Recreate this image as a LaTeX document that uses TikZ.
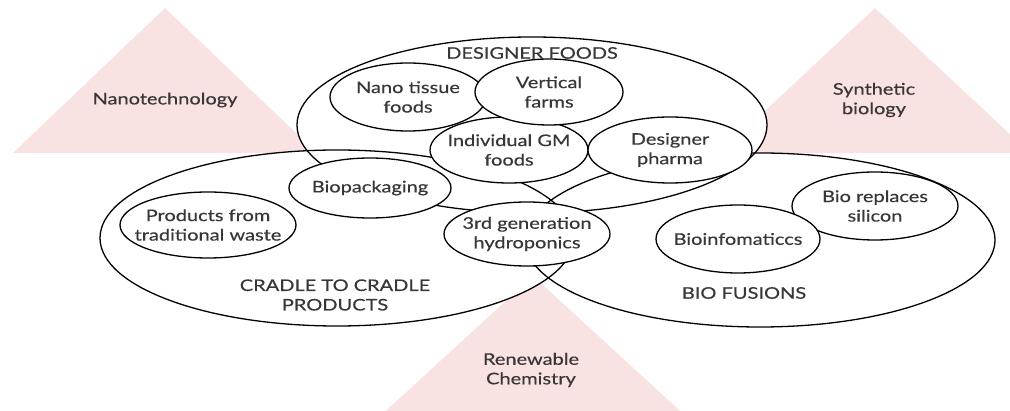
\documentclass[tikz,border=0pt]{standalone}
\usepackage{fontspec}
\setmainfont[FakeStretch=1.25,FakeBold=0.4]{Lato}
\usetikzlibrary{shapes.geometric}
\definecolor{tri}{RGB}{249,227,226}
\definecolor{txt}{RGB}{58,54,56}
\begin{document}
\begin{tikzpicture}[x=1pt,y=-1pt,
  lab/.style={font=\fontsize{16}{19.5}\selectfont, text=txt, align=center, inner sep=0pt},
  tribox/.style={fill=tri, draw=none},
  bigfill/.style={ellipse, fill=white, draw=none, inner sep=0pt},
  outline/.style={draw=black, line width=1.3pt},
  inner/.style={ellipse, fill=white, draw=black, line width=1.3pt, inner sep=0pt}
]
\useasboundingbox (0,0) rectangle (1010,411);
\clip (0,0) rectangle (1010,411);
% triangles
\fill[tribox] (13,153) -- (165,8) -- (317,153) -- cycle;
\fill[tribox] (720,153) -- (875,8) -- (1030,153) -- cycle;
\fill[tribox] (533,276) -- (690,420) -- (376,420) -- cycle;
% big ellipses: fills
\node[bigfill, minimum width=470pt, minimum height=176pt] (df) at (532,125) {};
\node[bigfill, minimum width=474pt, minimum height=176pt] (cc) at (337,238) {};
\node[bigfill, minimum width=470pt, minimum height=174pt] (bf) at (760,240) {};
% big ellipses: outlines
\draw[outline] (df.center) ellipse [x radius=235pt, y radius=88pt];
\draw[outline] (cc.center) ellipse [x radius=237pt, y radius=88pt];
\draw[outline] (bf.center) ellipse [x radius=235pt, y radius=87pt];
% inner ellipses
\node[inner, minimum width=156pt, minimum height=68pt] (nano) at (408,97) {};
\node[inner, minimum width=158pt, minimum height=66pt] (gm) at (509,150) {};
\node[inner, minimum width=148pt, minimum height=66pt] (vert) at (549,92) {};
\node[inner, minimum width=164pt, minimum height=66pt] (pharma) at (670,150) {};
\node[inner, minimum width=162pt, minimum height=60pt] (biopack) at (370,188) {};
\node[inner, minimum width=176pt, minimum height=66pt] (waste) at (208,225) {};
\node[inner, minimum width=166pt, minimum height=64pt] (hydro) at (527,234) {};
\node[inner, minimum width=166pt, minimum height=68pt] (silicon) at (875,206) {};
\node[inner, minimum width=164pt, minimum height=68pt] (bioinfo) at (738,239) {};
% labels
\node[lab] (tnano) at (165,100) {Nanotechnology};
\node[lab] (tsyn) at (874,100) {Synthetic\\biology};
\node[lab] (tren) at (531,370) {Renewable\\Chemistry};
\node[lab] (tdf) at (532,53) {DESIGNER FOODS};
\node[lab] (tcc) at (335,295) {CRADLE TO CRADLE\\PRODUCTS};
\node[lab] (tbf) at (744,293) {BIO FUSIONS};
\node[lab] at (nano) {Nano tissue\\foods};
\node[lab] at (vert) {Vertical\\farms};
\node[lab] at (gm) {Individual GM\\foods};
\node[lab] at (pharma) {Designer\\pharma};
\node[lab] at (biopack) {Biopackaging};
\node[lab] at (waste) {Products from\\traditional waste};
\node[lab] at (hydro) {3rd generation\\hydroponics};
\node[lab] at (silicon) {Bio replaces\\silicon};
\node[lab] at (bioinfo) {Bioinfomaticcs};
\end{tikzpicture}
\end{document}
